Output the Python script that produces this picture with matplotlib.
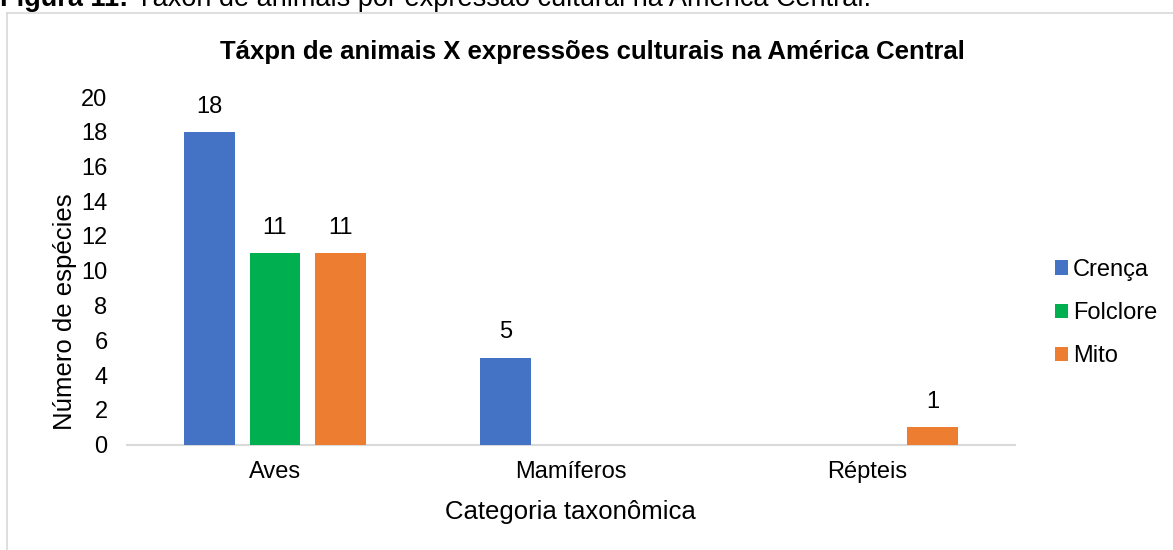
import numpy as np
import matplotlib
matplotlib.use("Agg")
import matplotlib.pyplot as plt
from matplotlib.lines import Line2D

plt.rcParams["font.family"] = ["Liberation Sans", "DejaVu Sans"]

categorias = ["Aves", "Mamíferos", "Répteis"]
series = ["Crença", "Folclore", "Mito"]
crenca = [18, 5, 0]
folclore = [11, 0, 0]
mito = [11, 0, 1]
cores = ["#4472C4", "#00B050", "#ED7D31"]

W, H = 1173, 550
fig = plt.figure(figsize=(W / 100, H / 100), dpi=100)

# plot area in pixel coordinates
left, right, top, bottom = 127, 1015, 97, 444.5
ax = fig.add_axes([left / W, 1 - bottom / H, (right - left) / W, (bottom - top) / H])

x = np.arange(len(categorias))
largura = 0.172
passo = 0.222
for i, (nome, vals, cor) in enumerate(zip(series, [crenca, folclore, mito], cores)):
    pos = x + (i - 1) * passo
    ax.bar(pos, vals, width=largura, color=cor, label=nome, zorder=3)
    for p, v in zip(pos, vals):
        if v > 0:
            ax.text(p, v + 1.45, str(v), ha="center", va="center", fontsize=17)

ax.set_xlim(-0.5, len(categorias) - 0.5)
ax.set_ylim(0, 20)
ax.set_yticks(range(0, 21, 2))
ax.set_xticks(x)
ax.set_xticklabels(categorias)
ax.tick_params(axis="both", length=0, labelsize=17)
ax.tick_params(axis="x", pad=12)
ax.tick_params(axis="y", pad=14)
for s in ["top", "right", "left"]:
    ax.spines[s].set_visible(False)
ax.spines["bottom"].set_color("#D9D9D9")
ax.spines["bottom"].set_linewidth(1.5)

# axis titles
fig.text(65 / W, 1 - 312 / H, "Número de espécies", rotation=90, fontsize=18.5,
         ha="center", va="center")
fig.text(570 / W, 1 - 512 / H, "Categoria taxonômica", fontsize=18.5, ha="center", va="center")

fig.text(592 / W, 1 - 52 / H, "Táxpn de animais X expressões culturais na América Central",
         fontsize=18.5, fontweight="bold", ha="center", va="center")

leg = ax.legend(loc="center left", bbox_to_anchor=(1055 / W, 1 - 313 / H), bbox_transform=fig.transFigure,
                frameon=False, fontsize=17, handlelength=0.55, handleheight=0.55, handletextpad=0.2,
                labelspacing=0.9, borderaxespad=0, borderpad=0)

# chart frame
fig.add_artist(Line2D([7 / W, 7 / W], [0, 1 - 12.5 / H], color="#D9D9D9", lw=1.2, transform=fig.transFigure))
fig.add_artist(Line2D([7 / W, 1], [1 - 12.5 / H, 1 - 12.5 / H], color="#D9D9D9", lw=1.2, transform=fig.transFigure))

# figure caption above the chart, partly cut by the top edge
r = fig.canvas.get_renderer()
rotulo = fig.text(0, 1 - 6 / H, "Figura 11: ", fontsize=19.5, fontweight="bold", va="baseline", ha="left")
x1 = rotulo.get_window_extent(r).x1
fig.text(x1 / W, 1 - 6 / H, "Táxon de animais por expressão cultural na América Central.",
         fontsize=19.5, va="baseline", ha="left")

fig.savefig("out.png", dpi=100)
